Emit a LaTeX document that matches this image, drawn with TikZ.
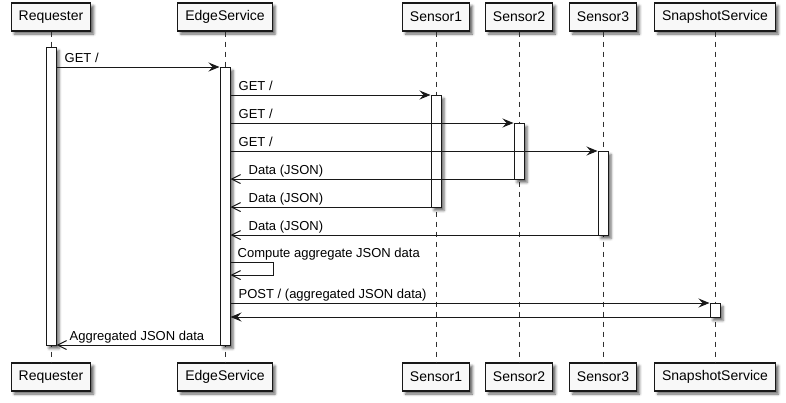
\documentclass[tikz,border=0pt]{standalone}
\usepackage{fontspec}
\setmainfont{Liberation Sans}
\usetikzlibrary{arrows.meta,shadows.blur,calc}
\definecolor{lineC}{HTML}{181818}
\definecolor{boxF}{HTML}{F8F8F8}
\definecolor{lifeC}{HTML}{303030}
\tikzset{
  shad/.style={blur shadow={shadow xshift=3pt,shadow yshift=-3pt,shadow opacity=60,shadow blur radius=2.5pt}},
  part/.style={draw=lineC,line width=1.2pt,fill=boxF,shad,minimum height=28pt,inner xsep=7.5pt,inner ysep=0pt,font=\fontsize{14}{16}\selectfont},
  act/.style={draw=lineC,line width=1pt,fill=white,shad,minimum width=10pt,inner sep=0pt,anchor=north},
  life/.style={draw=lifeC,line width=0.8pt,dash pattern=on 5pt off 5pt},
  req/.style={draw=lineC,line width=1pt,-{Stealth[length=11pt,width=9pt,inset=4pt]}},
  retfill/.style={draw=lineC,line width=1pt,-{Stealth[length=11pt,width=9pt,inset=4pt]}},
  ret/.style={draw=lineC,line width=1pt,-{Straight Barb[length=9pt,width=9pt]}},
  lbl/.style={anchor=base west,inner sep=0pt,font=\fontsize{13}{15}\selectfont}
}
\begin{document}
\begin{tikzpicture}[x=1pt,y=-1pt]
\useasboundingbox (0,0) rectangle (786,402);
% participants
\node[part] (tR) at (51,17) {Requester};
\node[part] (tE) at (225,17) {EdgeService};
\node[part] (tS1) at (436,17) {Sensor1};
\node[part] (tS2) at (519,17) {Sensor2};
\node[part] (tS3) at (603,17) {Sensor3};
\node[part] (tSn) at (715,17) {SnapshotService};
\node[part] (bR) at (51,377) {Requester};
\node[part] (bE) at (225,377) {EdgeService};
\node[part] (bS1) at (436,377) {Sensor1};
\node[part] (bS2) at (519,377) {Sensor2};
\node[part] (bS3) at (603,377) {Sensor3};
\node[part] (bSn) at (715,377) {SnapshotService};
% lifelines
\draw[life] (tR) -- (bR);
\draw[life] (tE) -- (bE);
\draw[life] (tS1) -- (bS1);
\draw[life] (tS2) -- (bS2);
\draw[life] (tS3) -- (bS3);
\draw[life] (tSn) -- (bSn);
% activations
\node[act,minimum height=298pt] (aR) at (51,47) {};
\node[act,minimum height=278pt] (aE) at (225,67) {};
\node[act,minimum height=112pt] (aS1) at (436,95) {};
\node[act,minimum height=56pt] (aS2) at (519,123) {};
\node[act,minimum height=84pt] (aS3) at (603,151) {};
\node[act,minimum height=14pt] (aSn) at (715,303) {};
% message rows
\coordinate (y1) at (0,67);
\coordinate (y2) at (0,95);
\coordinate (y3) at (0,123);
\coordinate (y4) at (0,151);
\coordinate (y5) at (0,179);
\coordinate (y6) at (0,207);
\coordinate (y7) at (0,235);
\coordinate (y8a) at (0,262);
\coordinate (y8b) at (0,275);
\coordinate (y9) at (0,303);
\coordinate (y10) at (0,317);
\coordinate (y11) at (0,345);
\coordinate (selfA) at (273,262);
\coordinate (selfB) at (273,275);
% messages
\draw[req] (aR.east |- y1) -- (aE.west |- y1);
\node[lbl] at ($(aR.east |- y1)+(8,-5)$) {GET /};
\draw[req] (aE.east |- y2) -- (aS1.west |- y2);
\node[lbl] at ($(aE.east |- y2)+(8,-5)$) {GET /};
\draw[req] (aE.east |- y3) -- (aS2.west |- y3);
\node[lbl] at ($(aE.east |- y3)+(8,-5)$) {GET /};
\draw[req] (aE.east |- y4) -- (aS3.west |- y4);
\node[lbl] at ($(aE.east |- y4)+(8,-5)$) {GET /};
\draw[ret] (aS2.west |- y5) -- (aE.east |- y5);
\node[lbl] at ($(aE.east |- y5)+(18,-5)$) {Data (JSON)};
\draw[ret] (aS1.west |- y6) -- (aE.east |- y6);
\node[lbl] at ($(aE.east |- y6)+(18,-5)$) {Data (JSON)};
\draw[ret] (aS3.west |- y7) -- (aE.east |- y7);
\node[lbl] at ($(aE.east |- y7)+(18,-5)$) {Data (JSON)};
\draw[ret] (aE.east |- y8a) -- (selfA) -- (selfB) -- (aE.east |- y8b);
\node[lbl] at ($(aE.east |- y8a)+(7,-5)$) {Compute aggregate JSON data};
\draw[req] (aE.east |- y9) -- (aSn.west |- y9);
\node[lbl] at ($(aE.east |- y9)+(8,-5)$) {POST / (aggregated JSON data)};
\draw[retfill] (aSn.west |- y10) -- (aE.east |- y10);
\draw[ret] (aE.west |- y11) -- (aR.east |- y11);
\node[lbl] at ($(aR.east |- y11)+(13,-5)$) {Aggregated JSON data};
\end{tikzpicture}
\end{document}
